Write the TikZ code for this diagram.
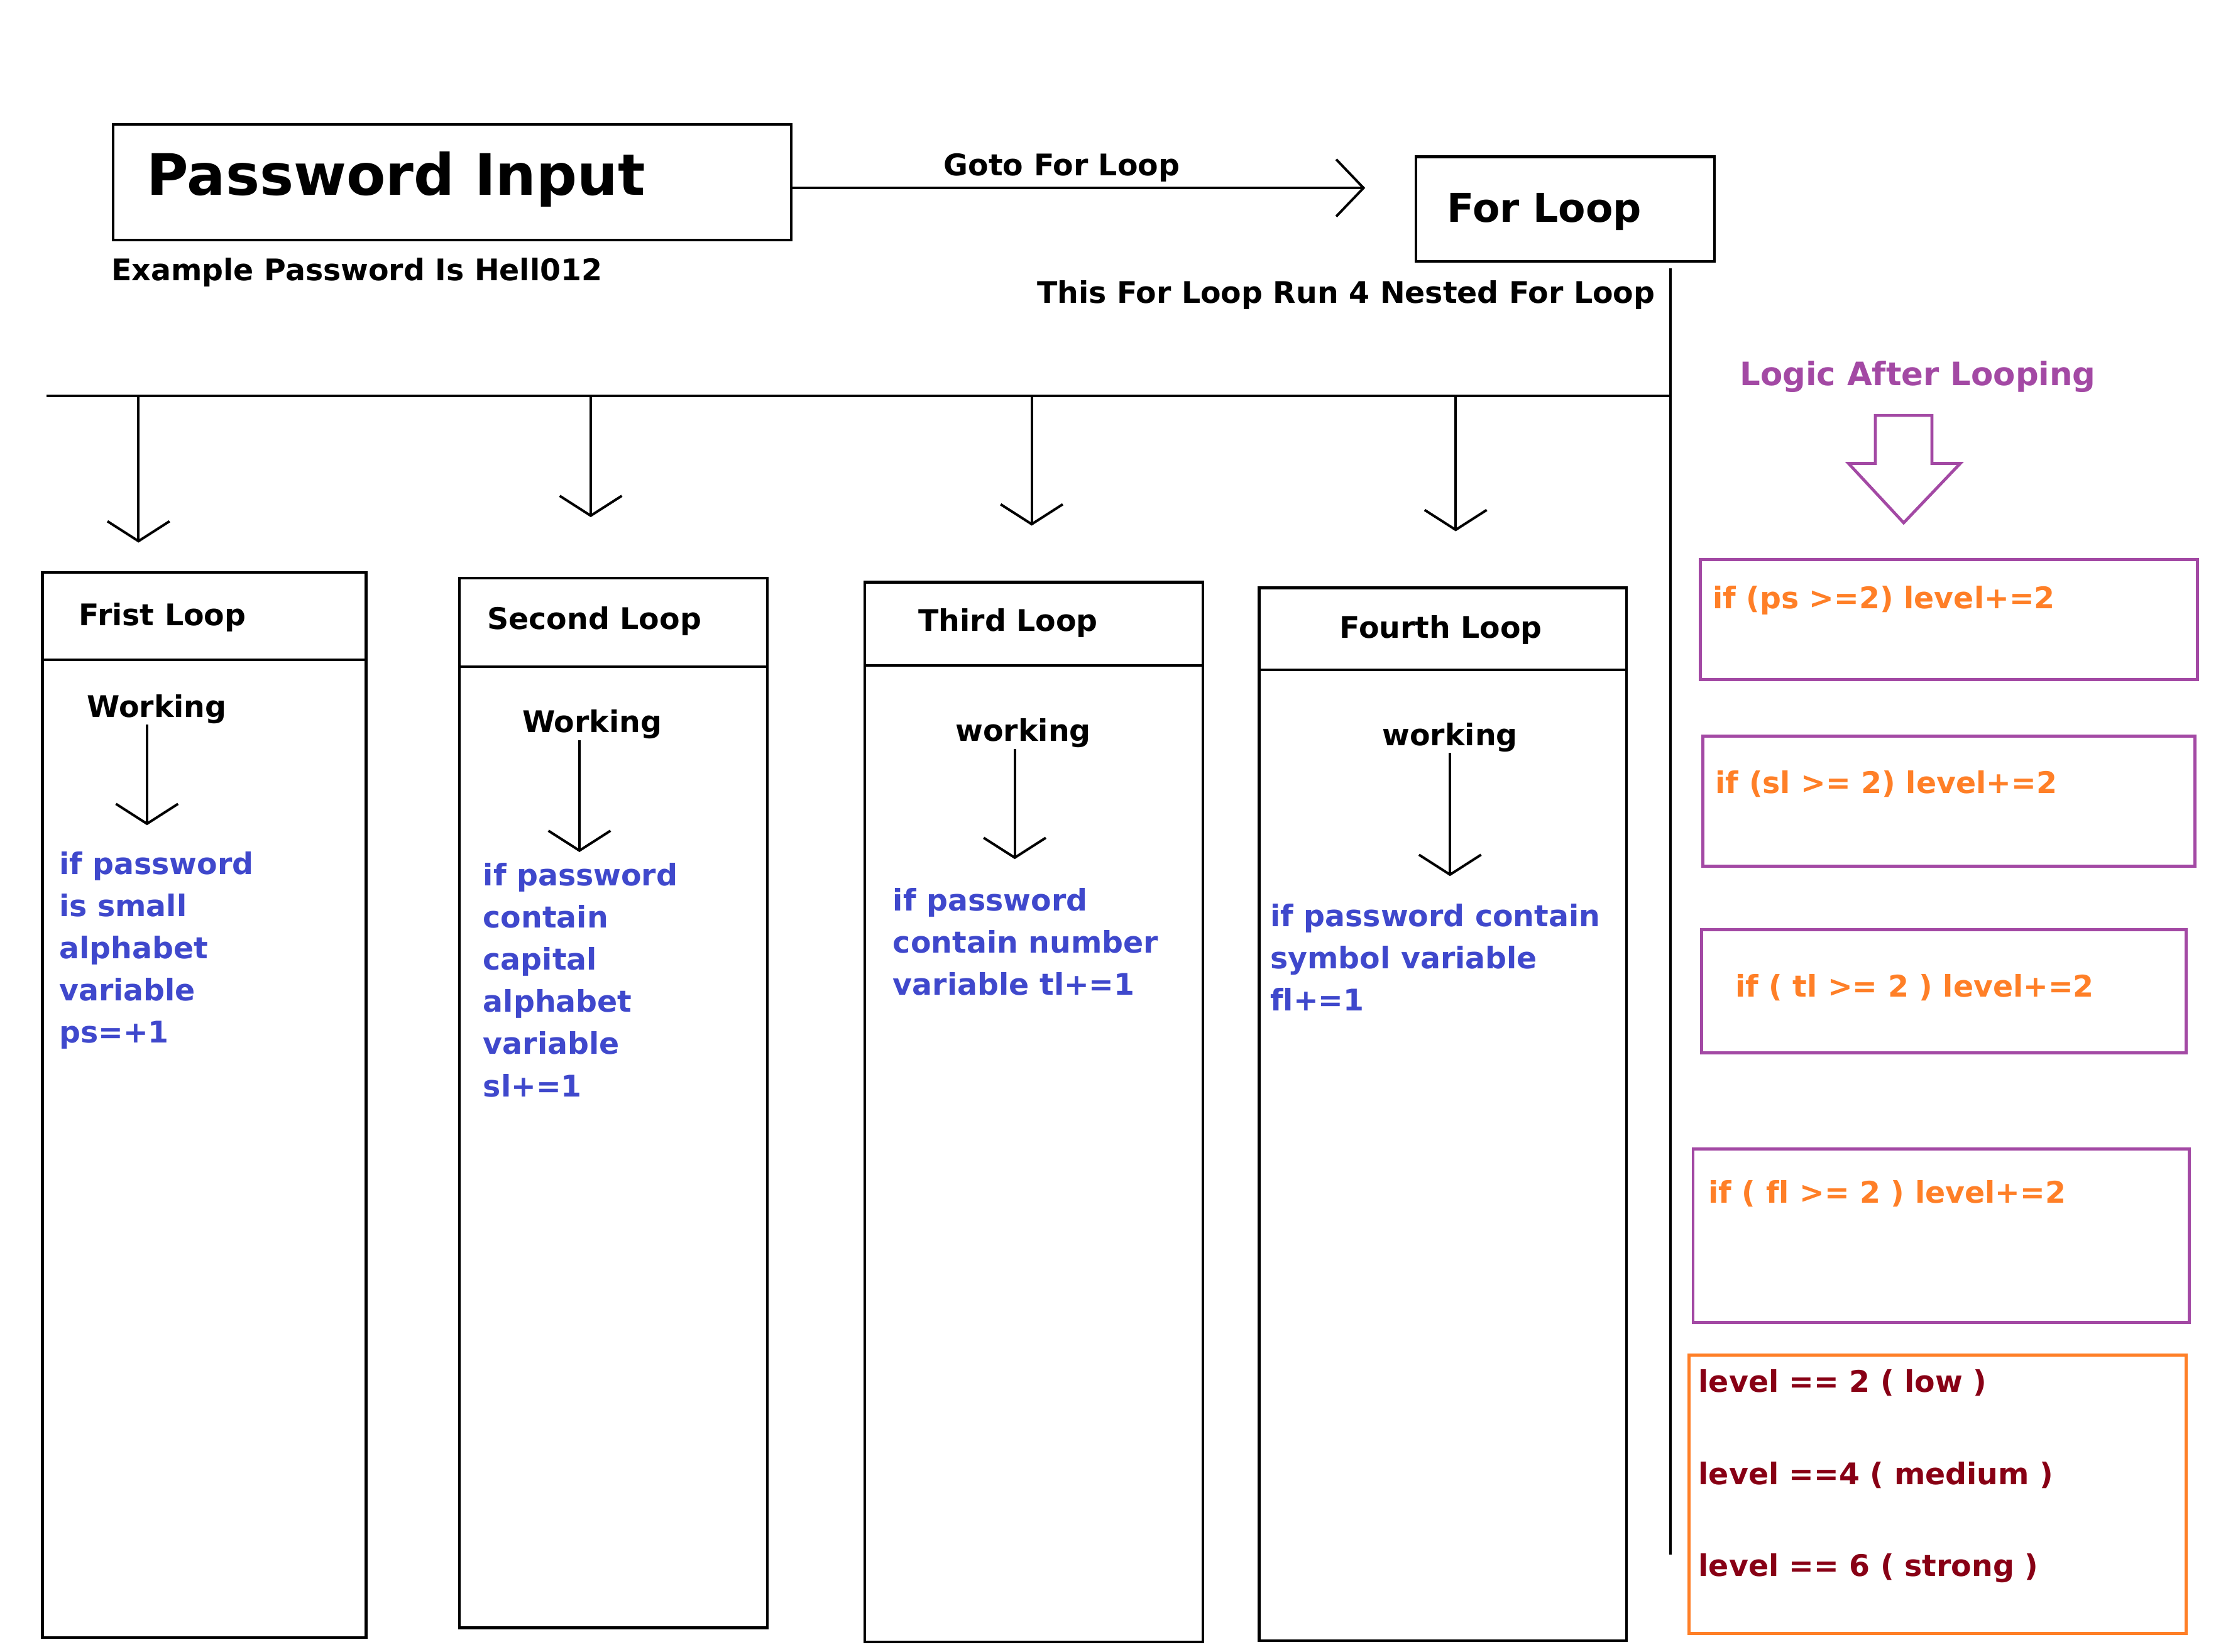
\documentclass[tikz,border=0pt]{standalone}
\usepackage{fontspec}
\setmainfont{DejaVu Sans}[Ligatures=CommonOff]
\usetikzlibrary{arrows.meta}
\usetikzlibrary{positioning}
\usetikzlibrary{fit}
\definecolor{paintindigo}{HTML}{3F48CC}
\definecolor{paintorange}{HTML}{FF7F27}
\definecolor{paintpurple}{HTML}{A349A4}
\definecolor{paintred}{HTML}{880015}
\tikzset{
  lbl/.style={font=\bfseries\fontsize{12}{17}\selectfont, inner sep=0pt, yshift=-1pt},
  looptext/.style={lbl, text=paintindigo, align=left, anchor=north west},
  condtext/.style={lbl, text=paintorange, anchor=west},
  leveltext/.style={lbl, text=paintred, anchor=west},
  pbox/.style={draw, line width=1.1pt, inner sep=0pt},
  rbox/.style={draw=paintpurple, line width=1.2pt, inner sep=0pt},
  barb/.style={-{Straight Barb[length=8pt, width=25pt]}}
}

\begin{document}
\begin{tikzpicture}[x=0.02cm, y=-0.02cm, line width=1pt]
      \useasboundingbox (0,0) rectangle (1568,1169);
      \node[pbox, fit={(80,88) (560,170)}] (pw) {};
      \node[lbl, font=\bfseries\fontsize{23}{28}\selectfont, anchor=west] (pwname) at (103,125) {Password Input};
      \node[lbl, anchor=west] (ex) at (78,191) {Example Password Is Hell012};
      \node[pbox, fit={(1002,111) (1213,185)}] (fl) {};
      \node[lbl, font=\bfseries\fontsize{16}{20}\selectfont, anchor=west] (flname) at (1023,148) {For Loop};
      \node[lbl, anchor=east] (nest) at (1172,207) {This For Loop Run 4 Nested For Loop};

      \coordinate (go) at (966,133);
      \draw[-{Straight Barb[length=11pt, width=23pt]}] (pw.east |- go) -- (go) node[lbl, above=3pt, pos=0.47] (goto) {Goto For Loop};

      \coordinate (bt) at (1182,190); \coordinate (bm) at (1182,280);
      \coordinate (bb) at (1182,1100); \coordinate (bl) at (33,280);
      \draw (bt) -- (bb);
      \draw (bl) -- (bm);
      \foreach \x/\y [count=\i] in {98/384, 418/366, 730/372, 1030/376}
        {\coordinate (d\i) at (\x,\y); \draw[barb] (bl -| d\i) -- (d\i);}

      \node[pbox, fit={(30,405) (259,1159)}] (l1) {};
      \node[pbox, fit={(325,409) (543,1152)}] (l2) {};
      \node[pbox, fit={(612,412) (851,1162)}] (l3) {};
      \node[pbox, fit={(891,416) (1151,1161)}] (l4) {};
      \foreach \i/\y in {1/467, 2/472, 3/471, 4/474}
        \draw (l\i.west |- 0,\y) -- (l\i.east |- 0,\y);

      \node[lbl, anchor=west] (t1) at (55,435) {Frist Loop};
      \node[lbl, anchor=west] (t2) at (344,438) {Second Loop};
      \node[lbl, anchor=west] (t3) at (649,439) {Third Loop};
      \node[lbl, anchor=west] (t4) at (947,444) {Fourth Loop};

      \node[lbl] (w1) at (111,500) {Working};
      \node[lbl] (w2) at (419,511) {Working};
      \node[lbl] (w3) at (724,517) {working};
      \node[lbl] (w4) at (1026,520) {working};
      \foreach \i/\x/\y in {1/104/584, 2/410/603, 3/718/608, 4/1026/620}
        {\coordinate (s\i) at (\x,\y); \draw[barb] (w\i.south -| s\i) -- (s\i);}

      \node[looptext] (c1) at (41,600) {if password\\is small\\alphabet\\variable\\ps=+1};
      \node[looptext] (c2) at (341,608) {if password\\contain\\capital\\alphabet\\variable\\sl+=1};
      \node[looptext] (c3) at (631,626) {if password\\contain number\\variable tl+=1};
      \node[looptext] (c4) at (898,637) {if password contain\\symbol variable\\fl+=1};

      \node[lbl, text=paintpurple, font=\bfseries\fontsize{13}{16}\selectfont] (logic) at (1357,265) {Logic After Looping};
      \draw[paintpurple, line width=1.2pt] (1327,294) -- (1367,294) -- (1367,328) -- (1387,328)
        -- (1347,370) -- (1308,328) -- (1327,328) -- cycle;

      \node[rbox, fit={(1203,396) (1555,481)}] (r1) {};
      \node[rbox, fit={(1205,521) (1553,613)}] (r2) {};
      \node[rbox, fit={(1204,658) (1547,745)}] (r3) {};
      \node[rbox, fit={(1198,813) (1549,936)}] (r4) {};
      \node[condtext] (k1) at (1211,423) {if (ps >=2) level+=2};
      \node[condtext] (k2) at (1213,553) {if (sl >= 2) level+=2};
      \node[condtext] (k3) at (1227,697) {if ( tl >= 2 ) level+=2};
      \node[condtext] (k4) at (1208,843) {if ( fl >= 2 ) level+=2};

      \node[rbox, draw=paintorange, fit={(1195,959) (1547,1156)}] (r5) {};
      \node[leveltext] (v1) at (1201,977) {level == 2 ( low )};
      \node[leveltext] (v2) at (1201,1042) {level ==4 ( medium )};
      \node[leveltext] (v3) at (1201,1108) {level == 6 ( strong )};
\end{tikzpicture}
\end{document}
